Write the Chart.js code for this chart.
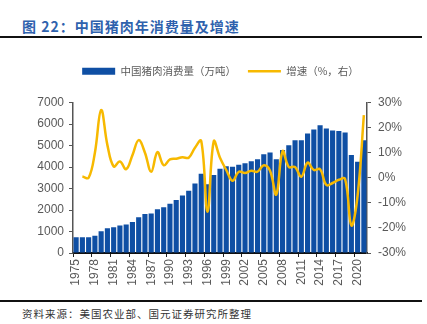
<!DOCTYPE html>
<html>
<head>
<meta charset="utf-8">
<script src="https://cdn.jsdelivr.net/npm/chart.js@4.4.0/dist/chart.umd.min.js"></script>
<style>
  html, body { margin: 0; padding: 0; background: #fff; }
  body { width: 427px; height: 324px; position: relative; overflow: hidden; }
  .title { position: absolute; left: 22px; top: 16px; font: bold 14px "Noto Sans CJK SC", sans-serif; color: #2f62ad; letter-spacing: 1px; }
  .rule { position: absolute; left: 0; width: 422px; background: #111; }
  .src { position: absolute; left: 22px; top: 306px; font: 10.5px "Noto Sans CJK SC", sans-serif; color: #333; letter-spacing: 1px; }
  .wrap { position: absolute; left: 0; top: 42px; width: 427px; height: 258px; }
</style>
</head>
<body>
<div class="title">图 22：中国猪肉年消费量及增速</div>
<div class="rule" style="top:36px;height:2px"></div>
<div class="wrap"><canvas id="c"></canvas></div>
<div class="rule" style="top:300px;height:1.5px"></div>
<div class="src">资料来源：美国农业部、国元证券研究所整理</div>
<script>
const years = [];
for (let y = 1975; y <= 2021; y++) years.push(String(y));

// 中国猪肉消费量（万吨）
const consumption = [730,730,730,800,1010,1150,1200,1275,1320,1440,
  1660,1810,1840,2040,2130,2290,2470,2670,2890,3230,
  3690,3200,3630,3920,4040,4010,4100,4180,4270,4360,
  4590,4670,4360,4790,5010,5240,5250,5560,5745,5945,
  5790,5700,5670,5610,4560,4240,5250];

// 增速（%）
const growth = [null,0.5,0,10,27,13,4.5,6.5,3.4,9,
  15,10,2.4,10.2,5,7.3,7.6,8.2,8,12,
  14.7,-13.6,14.5,8,3.1,-1.2,2.4,1.9,2.8,2.4,
  5,2.8,-6.7,10.6,4.3,4.3,0.4,6,3.1,3.4,
  -2.9,-2.1,-0.8,-0.5,-19,-7,25];

const leftTicks = [0,1000,2000,3000,4000,5000,6000,7000];
const rightTicks = [-30,-20,-10,0,10,20,30];

const tickFont = { family: '"Liberation Sans", Arial, sans-serif', size: 12 };
const tickGrey = '#595959';

const legendGap = {
  id: 'legendGap',
  beforeInit(chart) {
    const fit = chart.legend.fit;
    chart.legend.fit = function() {
      fit.bind(chart.legend)();
      this.height += 16;
    };
  }
};

new Chart(document.getElementById('c'), {
  type: 'bar',
  data: {
    labels: years,
    datasets: [
      {
        type: 'line',
        label: '增速（%，右）',
        data: growth,
        yAxisID: 'y1',
        borderColor: '#f7b900',
        backgroundColor: '#f7b900',
        borderWidth: 2.5,
        tension: 0.4,
        pointRadius: 0,
        pointStyle: 'line',
        order: 0
      },
      {
        label: '中国猪肉消费量（万吨）',
        data: consumption,
        yAxisID: 'y',
        backgroundColor: '#0f4fa4',
        borderWidth: 0,
        barPercentage: 0.82,
        categoryPercentage: 1,
        pointStyle: 'rect',
        order: 1
      }
    ]
  },
  options: {
    responsive: true,
    maintainAspectRatio: false,
    animation: false,
    layout: { padding: { left: 14, right: 0, top: 12, bottom: 0 } },
    plugins: {
      legend: {
        position: 'top',
        reverse: true,
        labels: {
          usePointStyle: true,
          pointStyleWidth: 33,
          boxHeight: 7,
          padding: 12,
          color: '#595959',
          font: { family: '"Noto Sans CJK SC", sans-serif', size: 10.5 }
        }
      },
      tooltip: { enabled: false }
    },
    scales: {
      x: {
        grid: {
          drawOnChartArea: false,
          tickLength: 4,
          tickColor: ctx => (ctx.index % 3 === 0 ? '#222' : 'rgba(0,0,0,0)')
        },
        border: { display: true, color: '#111', width: 2 },
        ticks: {
          autoSkip: false,
          minRotation: 90,
          maxRotation: 90,
          padding: 2,
          color: tickGrey,
          font: tickFont,
          callback: (v, i) => (i % 3 === 0 ? years[i] : '')
        },
        afterFit: s => { s.height = 47; }
      },
      y: {
        position: 'left',
        min: 0,
        max: 7000,
        afterBuildTicks: s => { s.ticks = leftTicks.map(v => ({ value: v })); },
        grid: { drawOnChartArea: false, tickLength: 4, tickColor: '#555' },
        border: { display: true, color: '#555', width: 1.5 },
        ticks: { color: tickGrey, font: tickFont, padding: 5, callback: v => String(v) },
        afterFit: s => { s.width = 59; }
      },
      y1: {
        position: 'right',
        min: -30,
        max: 30,
        afterBuildTicks: s => { s.ticks = rightTicks.map(v => ({ value: v })); },
        grid: { drawOnChartArea: false, tickLength: 4, tickColor: '#555' },
        border: { display: true, color: '#555', width: 1.5 },
        ticks: { color: tickGrey, font: tickFont, padding: 7, callback: v => v + '%' },
        afterFit: s => { s.width = 60; }
      }
    }
  },
  plugins: [legendGap]
});
</script>
</body>
</html>
